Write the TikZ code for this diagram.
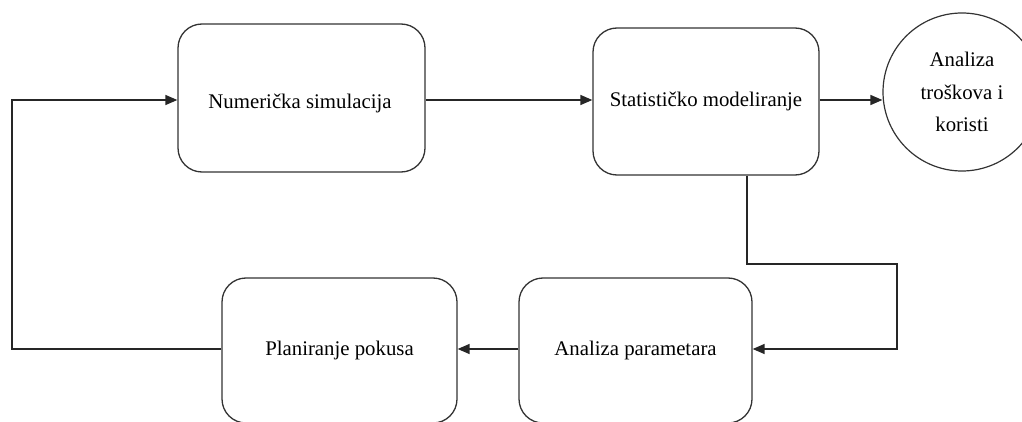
\documentclass[tikz,border=0pt]{standalone}
\usepackage{fontspec}
\setmainfont{Liberation Serif}
\usetikzlibrary{arrows.meta}
\begin{document}
\begin{tikzpicture}[x=1pt,y=-1pt,
  box/.style={draw=black!80,line width=1.3pt,rounded corners=24pt,inner sep=0pt,font=\fontsize{20.8}{25}\selectfont,align=center},
  conn/.style={draw=black!85,line width=1.4pt},
  arr/.style={conn,-{Triangle[length=12pt,width=10pt]}}]
\useasboundingbox (0,0) rectangle (1022,422);
\clip (0,0) rectangle (1022,422);
\node[box,minimum width=247pt,minimum height=148pt] (B1) at (301.5,98) {};
\node[font=\fontsize{20.8}{25}\selectfont] (T1) at (300,103) {Numerička simulacija};
\node[box,minimum width=226pt,minimum height=147pt] (B2) at (706,101.5) {Statističko modeliranje};
\node[box,minimum width=235pt,minimum height=145pt] (B3) at (339.5,350.5) {Planiranje pokusa};
\node[box,minimum width=233pt,minimum height=145pt] (B4) at (635.5,350.5) {Analiza parametara};
\node[draw=black!80,line width=1.2pt,circle,minimum size=158pt,inner sep=0pt,font=\fontsize{20.8}{32.5}\selectfont,align=center] (C) at (962,92) {Analiza\\troškova i\\koristi};
\coordinate (top) at (0,100);
\coordinate (bot) at (0,349);
\coordinate (k1) at (747,264);
\coordinate (k2) at (897,264);
\coordinate (k3) at (897,349);
\coordinate (l1) at (12,349);
\coordinate (l2) at (12,100);
\draw[arr] (B1.east |- top) -- (B2.west |- top);
\draw[arr] (B2.east |- top) -- (C.west |- top);
\draw[arr] (B2.south -| k1) -- (k1) -- (k2) -- (k3) -- (B4.east |- k3);
\draw[arr] (B4.west |- bot) -- (B3.east |- bot);
\draw[arr] (B3.west |- l1) -- (l1) -- (l2) -- (B1.west |- l2);
\end{tikzpicture}
\end{document}
